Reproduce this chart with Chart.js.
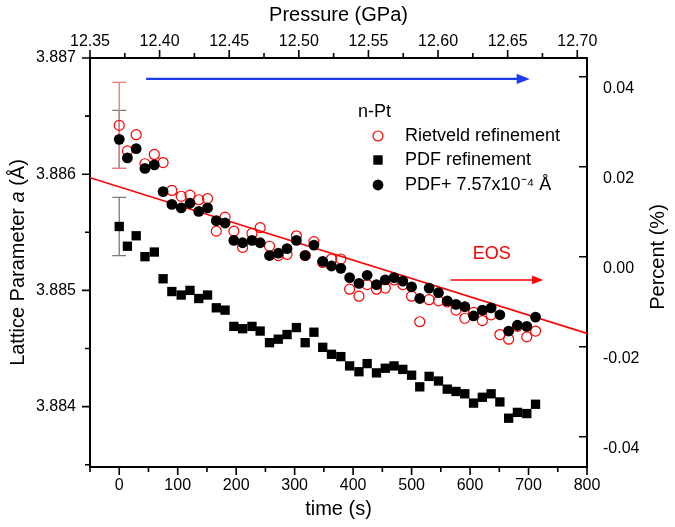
<!DOCTYPE html>
<html>
<head>
<meta charset="utf-8">
<script src="https://cdn.jsdelivr.net/npm/chart.js@4.4.0/dist/chart.umd.min.js"></script>
<style>
  html, body { margin: 0; padding: 0; background: #fff; }
  #chart { display: block; }
</style>
</head>
<body>
<canvas id="chart" width="675" height="527"></canvas>
<script>
// time (s) of each measurement
const times = [0, 14, 29, 44, 60, 75, 90, 106, 121, 136, 151, 166, 181, 196, 211, 227,
  241, 257, 272, 287, 303, 318, 333, 348, 363, 379, 394, 410, 424, 440, 455, 470,
  485, 500, 514, 530, 546, 561, 576, 591, 606, 621, 636, 651, 666, 681, 697, 712];

// lattice parameter (Å)
const rietveld = [3.88642, 3.88620, 3.88634, 3.88609, 3.88617, 3.88610, 3.88586, 3.88581,
  3.88582, 3.88578, 3.88579, 3.88551, 3.88563, 3.88551, 3.88537, 3.88549,
  3.88554, 3.88538, 3.88530, 3.88531, 3.88547, 3.88530, 3.88542, 3.88524,
  3.88527, 3.88527, 3.88501, 3.88495, 3.88505, 3.88501, 3.88502, 3.88509,
  3.88505, 3.88495, 3.88473, 3.88492, 3.88491, 3.88490, 3.88483, 3.88476,
  3.88481, 3.88474, 3.88479, 3.88462, 3.88458, 3.88469, 3.88460, 3.88465];

const pdfShifted = [3.88630, 3.88614, 3.88622, 3.88605, 3.88608, 3.88585, 3.88574, 3.88571,
  3.88575, 3.88568, 3.88571, 3.88560, 3.88558, 3.88543, 3.88541, 3.88543,
  3.88541, 3.88530, 3.88532, 3.88536, 3.88543, 3.88530, 3.88539, 3.88525,
  3.88521, 3.88519, 3.88511, 3.88506, 3.88513, 3.88505, 3.88509, 3.88511,
  3.88508, 3.88503, 3.88493, 3.88502, 3.88498, 3.88491, 3.88488, 3.88486,
  3.88478, 3.88483, 3.88485, 3.88479, 3.88465, 3.88470, 3.88469, 3.88477];

const pdfRefined = [3.88555, 3.88538, 3.88547, 3.88529, 3.88533, 3.88510, 3.88499, 3.88496,
  3.88500, 3.88493, 3.88496, 3.88485, 3.88483, 3.88469, 3.88467, 3.88469,
  3.88465, 3.88455, 3.88458, 3.88462, 3.88468, 3.88455, 3.88464, 3.88451,
  3.88445, 3.88443, 3.88435, 3.88430, 3.88437, 3.88429, 3.88433, 3.88435,
  3.88432, 3.88427, 3.88417, 3.88426, 3.88422, 3.88415, 3.88413, 3.88411,
  3.88403, 3.88408, 3.88411, 3.88404, 3.88390, 3.88395, 3.88394, 3.88402];

// error bars on the first point
const errRietveld = 0.00037;
const errPdf = 0.00025;

// EOS line
const eosTime = [-50, 800];
const eosValue = [3.88597, 3.88463];

// arrows and label
const pressureArrowTime = [46, 702];
const pressureArrowValue = 3.88682;
const eosArrowTime = [567, 725];
const eosArrowValue = 3.88509;
const eosLabelTime = 637;
const eosLabelValue = 3.88531;

// axes
const timeTicks = [0, 100, 200, 300, 400, 500, 600, 700, 800];
const timeMinor = [-50, 50, 150, 250, 350, 450, 550, 650, 750];
const pressureTicks = [12.35, 12.40, 12.45, 12.50, 12.55, 12.60, 12.65, 12.70];
const pressureMinor = [12.375, 12.425, 12.475, 12.525, 12.575, 12.625, 12.675];
const latticeTicks = [3.884, 3.885, 3.886, 3.887];
const latticeMinor = [3.8835, 3.8845, 3.8855, 3.8865];
const percentTicks = [-0.04, -0.02, 0, 0.02, 0.04];

const FONT = '"Liberation Sans", Arial, sans-serif';

function points(xs, ys) {
    return xs.map((x, i) => ({ x: x, y: ys[i] }));
}

function errorBar(ctx, sx, sy, t, v, e, color) {
    const x = sx.getPixelForValue(t);
    const y1 = sy.getPixelForValue(v - e);
    const y2 = sy.getPixelForValue(v + e);
    ctx.strokeStyle = color;
    ctx.lineWidth = 1.3;
    ctx.beginPath();
    ctx.moveTo(x, y1); ctx.lineTo(x, y2);
    ctx.moveTo(x - 7, y1); ctx.lineTo(x + 7, y1);
    ctx.moveTo(x - 7, y2); ctx.lineTo(x + 7, y2);
    ctx.stroke();
}

function arrow(ctx, x1, x2, y, color, width, head) {
    ctx.strokeStyle = color;
    ctx.fillStyle = color;
    ctx.lineWidth = width;
    ctx.beginPath();
    ctx.moveTo(x1, y); ctx.lineTo(x2 - head + 1, y);
    ctx.stroke();
    ctx.beginPath();
    ctx.moveTo(x2, y);
    ctx.lineTo(x2 - head, y - head * 0.4);
    ctx.lineTo(x2 - head, y + head * 0.4);
    ctx.closePath();
    ctx.fill();
}

function tickMarks(ctx, scale, values, len, side) {
    const a = scale.chart.chartArea;
    ctx.beginPath();
    values.forEach(v => {
        const p = scale.getPixelForValue(v);
        if (side === 'bottom') { ctx.moveTo(p, a.bottom); ctx.lineTo(p, a.bottom + len); }
        if (side === 'top') { ctx.moveTo(p, a.top); ctx.lineTo(p, a.top - len); }
        if (side === 'left') { ctx.moveTo(a.left, p); ctx.lineTo(a.left - len, p); }
        if (side === 'right') { ctx.moveTo(a.right, p); ctx.lineTo(a.right - len, p); }
    });
    ctx.stroke();
}

const decor = {
    id: 'decor',
    beforeDatasetsDraw(chart) {
        const ctx = chart.ctx;
        const sx = chart.scales.x, sy = chart.scales.y;
        ctx.save();
        errorBar(ctx, sx, sy, times[0], pdfRefined[0], errPdf, '#7a7a7a');
        errorBar(ctx, sx, sy, times[0], pdfShifted[0], errPdf, '#7a7a7a');
        errorBar(ctx, sx, sy, times[0], rietveld[0], errRietveld, '#f07878');
        ctx.restore();
    },
    afterDraw(chart) {
        const ctx = chart.ctx;
        const a = chart.chartArea;
        const sx = chart.scales.x, sy = chart.scales.y;
        ctx.save();

        // tick marks
        ctx.strokeStyle = '#000';
        ctx.lineWidth = 1.6;
        tickMarks(ctx, sx, timeTicks, 8, 'bottom');
        tickMarks(ctx, sx, timeMinor, 5, 'bottom');
        tickMarks(ctx, chart.scales.x2, pressureTicks, 8, 'top');
        tickMarks(ctx, chart.scales.x2, pressureMinor, 5, 'top');
        tickMarks(ctx, sy, latticeTicks, 8, 'left');
        tickMarks(ctx, sy, latticeMinor, 5, 'left');
        tickMarks(ctx, chart.scales.y2, percentTicks, 8, 'right');

        // arrows
        const yBlue = sy.getPixelForValue(pressureArrowValue);
        arrow(ctx, sx.getPixelForValue(pressureArrowTime[0]), sx.getPixelForValue(pressureArrowTime[1]),
            yBlue, '#1f3bf0', 2.4, 13);
        const yEos = sy.getPixelForValue(eosArrowValue);
        arrow(ctx, sx.getPixelForValue(eosArrowTime[0]), sx.getPixelForValue(eosArrowTime[1]),
            yEos, '#ff0000', 1.5, 11);

        ctx.fillStyle = '#ff0000';
        ctx.font = '18px ' + FONT;
        ctx.textAlign = 'center';
        ctx.textBaseline = 'middle';
        ctx.fillText('EOS', sx.getPixelForValue(eosLabelTime), sy.getPixelForValue(eosLabelValue));

        // legend
        ctx.fillStyle = '#000';
        ctx.textAlign = 'left';
        ctx.fillText('n-Pt', 358, 112);
        ctx.fillText('Rietveld refinement', 405, 136);
        ctx.fillText('PDF refinement', 405, 160);
        ctx.fillText('PDF+ 7.57x10\u207B\u2074 \u00C5', 405, 185);
        ctx.strokeStyle = '#ff0000';
        ctx.lineWidth = 1.2;
        ctx.beginPath(); ctx.arc(378, 136, 5, 0, Math.PI * 2); ctx.stroke();
        ctx.fillRect(373.3, 155.3, 9.4, 9.4);
        ctx.beginPath(); ctx.arc(378, 185, 5.4, 0, Math.PI * 2); ctx.fill();

        // axis titles
        ctx.font = '20px ' + FONT;
        ctx.textAlign = 'center';
        const cx = (a.left + a.right) / 2;
        ctx.fillText('Pressure (GPa)', cx, 15);
        ctx.fillText('time (s)', cx, 509);

        ctx.save();
        ctx.translate(658, 257);
        ctx.rotate(-Math.PI / 2);
        ctx.fillText('Percent (%)', 0, 0);
        ctx.restore();

        ctx.save();
        ctx.translate(18, (a.top + a.bottom) / 2);
        ctx.rotate(-Math.PI / 2);
        const parts = [['Lattice Parameter ', ''], ['a', 'italic '], [' (\u00C5)', '']];
        let total = 0;
        parts.forEach(p => { ctx.font = p[1] + '20px ' + FONT; total += ctx.measureText(p[0]).width; });
        let pos = -total / 2;
        ctx.textAlign = 'left';
        parts.forEach(p => {
            ctx.font = p[1] + '20px ' + FONT;
            ctx.fillText(p[0], pos, 0);
            pos += ctx.measureText(p[0]).width;
        });
        ctx.restore();

        ctx.restore();
    }
};

function axisOpts(extra) {
    return Object.assign({
        type: 'linear',
        grid: { display: false, drawTicks: false },
        border: { display: true, width: 2, color: '#000' }
    }, extra);
}

const tickFont = { family: FONT, size: 16 };

new Chart(document.getElementById('chart').getContext('2d'), {
    type: 'scatter',
    data: {
        datasets: [
            {
                label: 'PDF+ 7.57x10\u207B\u2074 \u00C5',
                data: points(times, pdfShifted),
                pointStyle: 'circle',
                pointRadius: 5.4,
                backgroundColor: '#000',
                borderColor: '#000',
                borderWidth: 0
            },
            {
                label: 'PDF refinement',
                data: points(times, pdfRefined),
                pointStyle: 'rect',
                pointRadius: 6.6,
                backgroundColor: '#000',
                borderColor: '#000',
                borderWidth: 0
            },
            {
                label: 'Rietveld refinement',
                data: points(times, rietveld),
                pointStyle: 'circle',
                pointRadius: 5,
                backgroundColor: 'rgba(0,0,0,0)',
                borderColor: '#ff0000',
                borderWidth: 1.2
            },
            {
                label: 'EOS',
                data: points(eosTime, eosValue),
                showLine: true,
                borderColor: '#ff0000',
                borderWidth: 1.6,
                pointRadius: 0
            }
        ]
    },
    options: {
        responsive: false,
        animation: false,
        devicePixelRatio: 1,
        layout: { padding: 0 },
        plugins: {
            legend: { display: false },
            tooltip: { enabled: false }
        },
        scales: {
            x: axisOpts({
                position: 'bottom', min: -50, max: 800,
                afterBuildTicks: s => { s.ticks = timeTicks.map(v => ({ value: v })); },
                afterFit: s => { s.height = 60; },
                ticks: { padding: 9, color: '#000', font: tickFont, maxRotation: 0, autoSkip: false,
                    callback: v => String(v) }
            }),
            x2: axisOpts({
                position: 'top', min: 12.35, max: 12.707,
                afterBuildTicks: s => { s.ticks = pressureTicks.map(v => ({ value: v })); },
                afterFit: s => { s.height = 58; },
                ticks: { padding: 7, color: '#000', font: tickFont, maxRotation: 0, autoSkip: false,
                    callback: v => v.toFixed(2) }
            }),
            y: axisOpts({
                position: 'left', min: 3.88348, max: 3.887,
                afterBuildTicks: s => { s.ticks = latticeTicks.map(v => ({ value: v })); },
                afterFit: s => { s.width = 90; },
                ticks: { padding: 14, color: '#000', font: tickFont, autoSkip: false,
                    callback: v => v.toFixed(3) }
            }),
            y2: axisOpts({
                position: 'right', min: -0.04673, max: 0.04416,
                afterBuildTicks: s => { s.ticks = percentTicks.map(v => ({ value: v })); },
                afterFit: s => { s.width = 88; },
                ticks: { padding: 16, labelOffset: 12, color: '#000', font: tickFont, autoSkip: false,
                    callback: v => v.toFixed(2) }
            })
        }
    },
    plugins: [decor]
});
</script>
</body>
</html>
